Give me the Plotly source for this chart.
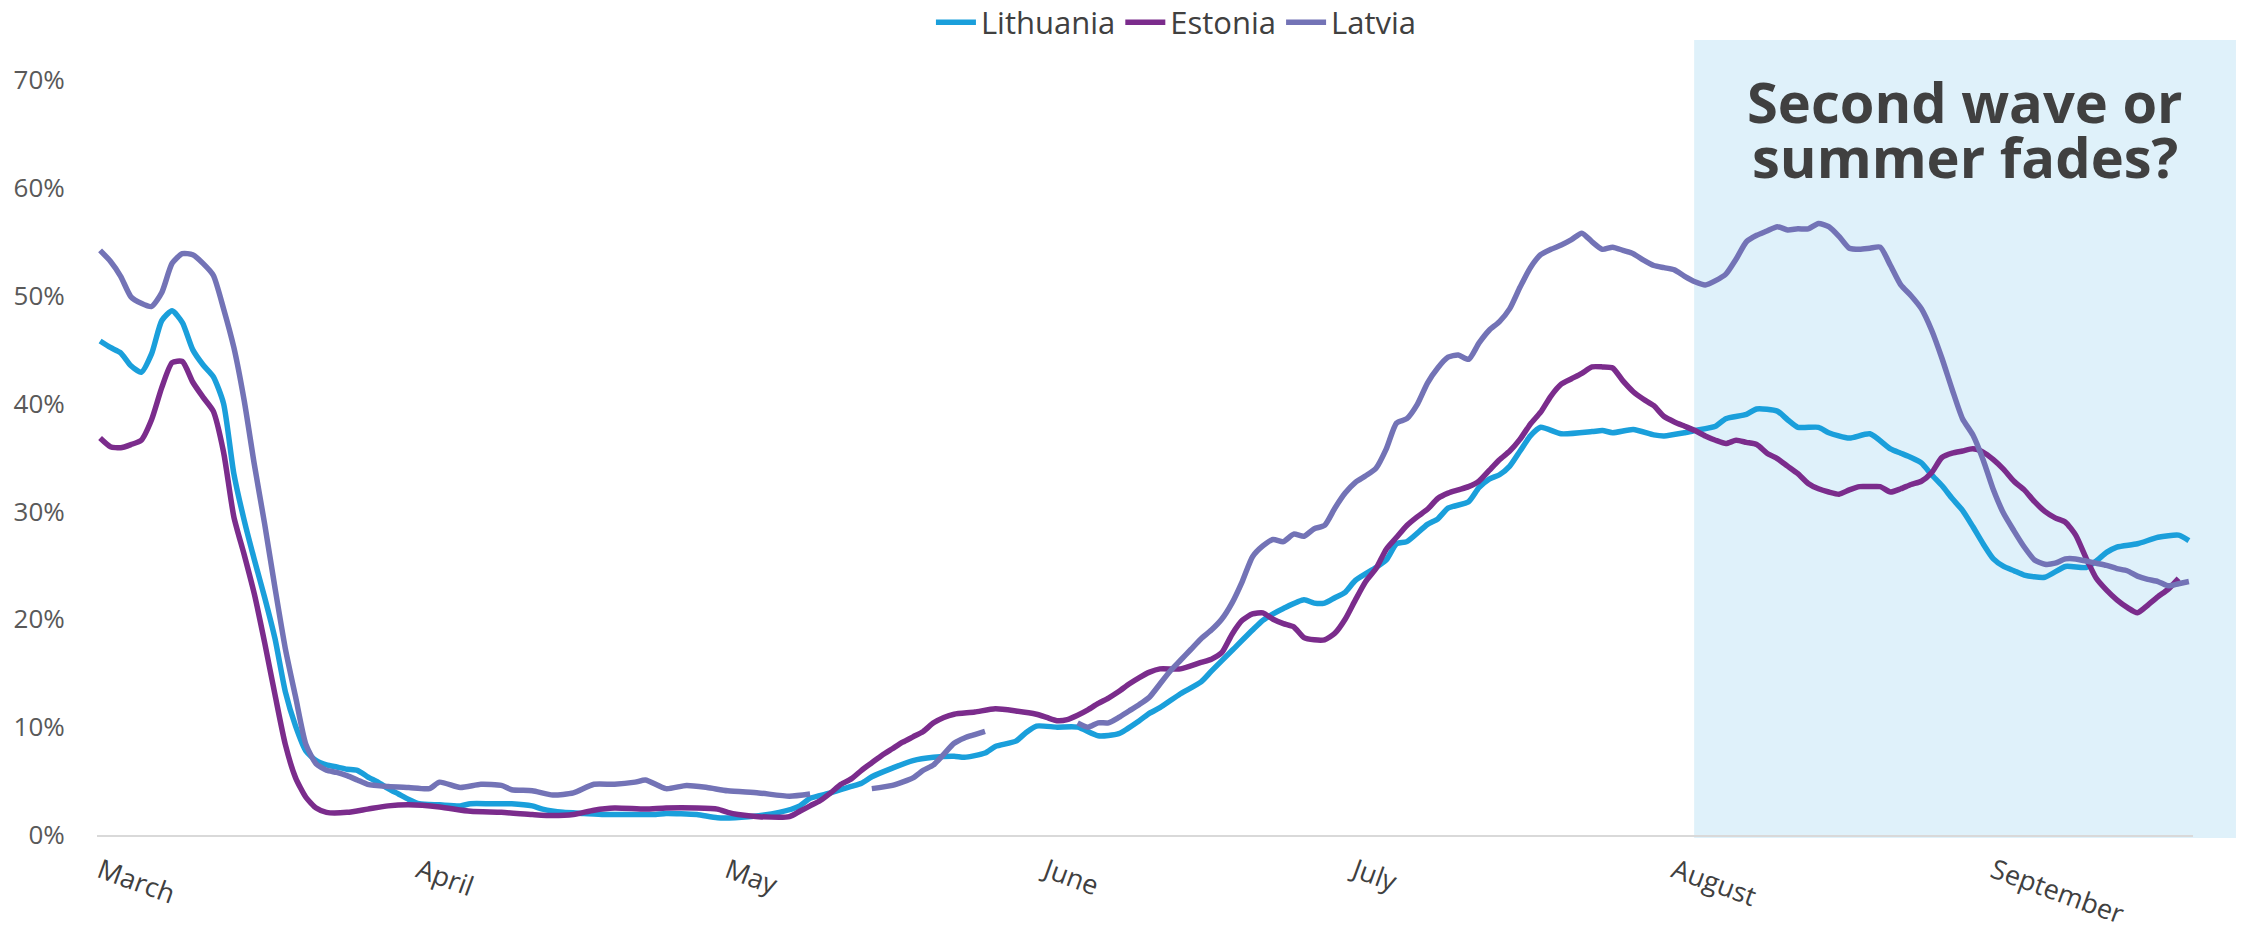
import pandas as pd
import plotly.graph_objects as go

START = pd.Timestamp("2020-03-01")

# day offsets from 1 March and share (%) for each country
lithuania_day = [0, 1, 2, 3, 4, 5, 6, 7, 8, 9, 10, 11, 12, 13, 14, 15, 16, 17, 18, 19, 20, 21, 22, 23, 24, 25,
                 26, 27, 28, 29, 30, 31, 33, 35, 36, 38, 40, 42, 43, 45, 47, 49, 52, 54, 55, 58, 60, 63, 66, 68,
                 69, 71, 73, 74, 75, 77, 79, 81, 83, 84, 86, 87, 89, 90, 91, 93, 95, 97, 99, 101, 102, 103, 105,
                 107, 108, 110, 112, 113, 114, 115, 117, 118, 119, 120, 121, 122, 124, 125, 126, 127, 129, 130,
                 131, 133, 134, 135, 136, 137, 138, 139, 140, 142, 145, 146, 147, 149, 151, 152, 154, 155, 157,
                 158, 160, 161, 163, 164, 165, 167, 168, 170, 172, 174, 175, 176, 177, 178, 179, 180, 181, 182,
                 183, 184, 185, 186, 187, 189, 191, 193, 194, 195, 196, 198, 200, 202, 203]
lithuania_val = [45.8, 45.2, 44.7, 43.5, 42.9, 44.6, 47.7, 48.6, 47.5, 45.0, 43.6, 42.5, 40.0, 33.5, 29.2, 25.5,
                 22.0, 18.2, 13.3, 10.1, 7.8, 6.9, 6.5, 6.3, 6.1, 6.0, 5.4, 4.9, 4.3, 3.8, 3.3, 2.9, 2.8, 2.7,
                 2.9, 2.9, 2.9, 2.7, 2.4, 2.1, 2.0, 1.9, 1.9, 1.9, 2.0, 1.9, 1.6, 1.7, 2.1, 2.7, 3.4, 3.9, 4.5,
                 4.8, 5.4, 6.2, 6.9, 7.2, 7.3, 7.2, 7.6, 8.2, 8.7, 9.5, 10.1, 10.0, 10.0, 9.2, 9.4, 10.6, 11.3,
                 11.8, 13.1, 14.2, 15.2, 17.1, 19.0, 19.9, 20.5, 21.0, 21.8, 21.5, 21.5, 22.0, 22.5, 23.6, 24.8,
                 25.5, 27.0, 27.2, 28.8, 29.3, 30.3, 30.9, 32.2, 33.0, 33.4, 34.2, 35.6, 37.0, 37.8, 37.2, 37.4,
                 37.5, 37.3, 37.6, 37.1, 37.0, 37.3, 37.5, 37.9, 38.6, 39.0, 39.5, 39.3, 38.5, 37.8, 37.8, 37.3,
                 36.8, 37.2, 35.8, 35.4, 35.0, 34.5, 33.4, 32.4, 31.2, 30.1, 28.6, 27.0, 25.6, 24.9, 24.5, 24.1,
                 23.9, 24.9, 24.8, 25.4, 26.2, 26.7, 27.0, 27.6, 27.8, 27.3]

estonia_day = [0, 1, 2, 3, 4, 5, 6, 7, 8, 9, 10, 11, 12, 13, 14, 15, 16, 17, 18, 19, 20, 21, 22, 24, 26, 28, 30,
               33, 36, 39, 42, 44, 46, 48, 50, 53, 55, 58, 60, 61, 62, 64, 67, 68, 69, 70, 71, 72, 73, 74, 75,
               76, 77, 78, 79, 80, 81, 82, 83, 85, 87, 89, 91, 92, 93, 94, 95, 96, 97, 98, 99, 100, 101, 102,
               103, 105, 107, 108, 109, 110, 111, 112, 113, 114, 115, 116, 117, 118, 119, 120, 121, 122, 123,
               124, 125, 126, 127, 128, 129, 130, 131, 132, 133, 134, 135, 136, 137, 138, 139, 140, 141, 142,
               143, 144, 145, 146, 147, 148, 149, 150, 151, 152, 153, 154, 155, 156, 157, 158, 159, 160, 161,
               162, 163, 164, 165, 166, 167, 168, 169, 170, 171, 172, 173, 174, 175, 176, 177, 178, 179, 180,
               181, 182, 183, 184, 185, 186, 187, 188, 189, 190, 191, 192, 193, 194, 195, 196, 197, 198, 199,
               200, 201, 202]
estonia_val = [36.8, 36.0, 35.9, 36.2, 36.6, 38.5, 41.5, 43.8, 43.9, 42.0, 40.6, 39.3, 35.5, 29.5, 26.0, 22.3,
               17.8, 13.0, 8.4, 5.3, 3.5, 2.5, 2.1, 2.1, 2.4, 2.7, 2.8, 2.6, 2.2, 2.1, 1.9, 1.8, 1.9, 2.3, 2.5,
               2.4, 2.5, 2.5, 2.4, 2.1, 1.9, 1.7, 1.7, 2.2, 2.7, 3.2, 3.9, 4.7, 5.2, 6.0, 6.7, 7.4, 8.0, 8.6,
               9.1, 9.6, 10.4, 10.9, 11.2, 11.4, 11.7, 11.5, 11.2, 10.9, 10.6, 10.7, 11.1, 11.6, 12.2, 12.7,
               13.3, 14.0, 14.6, 15.1, 15.4, 15.4, 16.0, 16.3, 16.9, 18.6, 19.9, 20.5, 20.6, 20.0, 19.6, 19.3,
               18.3, 18.1, 18.1, 18.7, 20.0, 21.8, 23.5, 24.7, 26.5, 27.6, 28.7, 29.5, 30.2, 31.2, 31.7, 32.0,
               32.3, 32.8, 33.8, 34.8, 35.6, 36.7, 38.1, 39.2, 40.7, 41.8, 42.3, 42.8, 43.4, 43.4, 43.3, 42.1,
               41.1, 40.4, 39.8, 38.8, 38.3, 37.9, 37.5, 37.0, 36.6, 36.3, 36.6, 36.4, 36.2, 35.4, 34.9, 34.2,
               33.5, 32.6, 32.1, 31.8, 31.6, 32.0, 32.3, 32.3, 32.3, 31.8, 32.1, 32.5, 32.8, 33.6, 35.0, 35.4,
               35.6, 35.8, 35.5, 34.8, 33.9, 32.8, 32.0, 30.9, 30.0, 29.4, 29.0, 27.8, 25.7, 23.8, 22.7, 21.8,
               21.1, 20.6, 21.3, 22.1, 22.8, 23.8]

# None marks the days where the Latvian series has no data
latvia_day = [0, 1, 2, 3, 4, 5, 6, 7, 8, 9, 10, 11, 12, 13, 14, 15, 16, 17, 18, 19, 20, 21, 22, 23, 24, 25, 26,
              28, 30, 32, 33, 35, 37, 39, 40, 42, 44, 46, 48, 50, 52, 53, 55, 57, 59, 61, 64, 67, 69,
              72,
              75, 77, 79, 80, 81, 82, 83, 84, 85, 86,
              90,
              95, 96, 97, 98, 99, 100, 101, 102, 103, 104, 105, 106, 107, 108, 109, 110, 111, 112, 113, 114,
              115, 116, 117, 118, 119, 120, 121, 122, 123, 124, 125, 126, 127, 128, 129, 130, 131, 132, 133,
              134, 135, 136, 137, 138, 139, 140, 141, 142, 143, 144, 145, 146, 147, 148, 149, 150, 151, 152,
              153, 154, 155, 156, 157, 158, 159, 160, 161, 162, 163, 164, 165, 166, 167, 168, 169, 170, 171,
              172, 173, 174, 175, 176, 177, 178, 179, 180, 181, 182, 183, 184, 185, 186, 187, 188, 189, 190,
              191, 192, 193, 194, 195, 196, 197, 198, 199, 200, 201, 202, 203]
latvia_val = [54.2, 53.2, 51.8, 49.9, 49.3, 49.0, 50.3, 53.0, 53.9, 53.8, 53.0, 51.9, 48.8, 45.2, 40.3, 34.3,
              28.8, 22.9, 17.3, 12.8, 8.4, 6.6, 6.0, 5.8, 5.5, 5.1, 4.7, 4.5, 4.4, 4.3, 4.9, 4.4, 4.7, 4.6,
              4.2, 4.1, 3.7, 3.9, 4.7, 4.7, 4.9, 5.1, 4.3, 4.6, 4.4, 4.1, 3.9, 3.6, 3.8,
              None,
              4.3, 4.6, 5.3, 6.0, 6.5, 7.5, 8.5, 9.0, 9.3, 9.6,
              None,
              10.4, 10.0, 10.4, 10.4, 10.9, 11.5, 12.1, 12.8, 14.0, 15.2, 16.2, 17.2, 18.2, 19.0, 20.0, 21.5,
              23.5, 25.8, 26.8, 27.4, 27.2, 27.9, 27.7, 28.4, 28.7, 30.3, 31.7, 32.7, 33.3, 34.0, 35.8, 38.2,
              38.6, 39.9, 41.9, 43.3, 44.3, 44.5, 44.1, 45.6, 46.8, 47.6, 48.8, 50.8, 52.6, 53.8, 54.3, 54.7,
              55.2, 55.8, 55.0, 54.3, 54.5, 54.2, 53.9, 53.3, 52.8, 52.6, 52.4, 51.8, 51.3, 51.0, 51.4, 52.0,
              53.4, 55.0, 55.6, 56.0, 56.4, 56.1, 56.2, 56.2, 56.7, 56.4, 55.5, 54.4, 54.3, 54.4, 54.5, 52.8,
              51.0, 50.0, 48.8, 46.8, 44.2, 41.3, 38.6, 37.1, 34.8, 32.0, 29.8, 28.2, 26.7, 25.5, 25.1, 25.2,
              25.6, 25.6, 25.4, 25.2, 25.0, 24.7, 24.5, 24.0, 23.7, 23.5, 23.1, 23.3, 23.5]

month_starts = ["2020-03-01", "2020-04-01", "2020-05-01", "2020-06-01",
                "2020-07-01", "2020-08-01", "2020-09-01"]
month_names = ["March", "April", "May", "June", "July", "August", "September"]
y_ticks = [0, 10, 20, 30, 40, 50, 60, 70]

series = [
    ("Lithuania", lithuania_day, lithuania_val, "#1A9FDB"),
    ("Estonia", estonia_day, estonia_val, "#7B2C8C"),
    ("Latvia", latvia_day, latvia_val, "#7373B6"),
]


def to_dates(days):
    return [START + pd.Timedelta(days=d) for d in days]


FONT = "Open Sans, Noto Sans, sans-serif"

fig = go.Figure()
for name, days, vals, color in series:
    fig.add_trace(go.Scatter(
        x=to_dates(days), y=vals, name=name, mode="lines",
        line=dict(color=color, width=5.5, shape="spline", smoothing=0.6),
        connectgaps=False,
    ))

# highlighted late-summer period
fig.add_shape(type="rect", xref="paper", yref="paper",
              x0=0.762, x1=1.0205, y0=-0.004, y1=1.053,
              fillcolor="#DFF1FA", line=dict(width=0), layer="below")

# two-line call-out, each line in its own box so the lines sit close together
callout_lines = ["Second wave or", "summer fades?"]
callout_y = [0.972, 0.899]
for line_text, ypos in zip(callout_lines, callout_y):
    fig.add_annotation(text=f"<b>{line_text}</b>", xref="paper", yref="paper",
                       x=0.891, y=ypos, xanchor="center", yanchor="middle", showarrow=False,
                       height=52, valign="middle",
                       font=dict(family=FONT, size=56, color="#404040"))

fig.update_layout(
    width=2241, height=932,
    margin=dict(l=97, r=48, t=80, b=97, autoexpand=False),
    paper_bgcolor="white", plot_bgcolor="rgba(0,0,0,0)",
    font=dict(family=FONT, color="#404040"),
    showlegend=True,
    legend=dict(orientation="h", x=0.515, xanchor="center", y=1.076, yanchor="middle",
                font=dict(family=FONT, size=31, color="#404040"), itemwidth=40,
                bgcolor="rgba(0,0,0,0)"),
    xaxis=dict(
        type="date",
        range=[START - pd.Timedelta(days=0.3), START + pd.Timedelta(days=203.4)],
        tickmode="array", tickvals=month_starts, ticktext=month_names,
        tickangle=20, tickfont=dict(family=FONT, size=27, color="#404040"),
        showgrid=False, zeroline=False,
        showline=True, linecolor="#D9D9D9", linewidth=2,
        ticks="outside", ticklen=8, tickcolor="rgba(0,0,0,0)",
    ),
    yaxis=dict(
        range=[0, 70], tickmode="array", tickvals=y_ticks,
        ticktext=[f"{v}%" for v in y_ticks],
        tickfont=dict(family=FONT, size=26, color="#595959"),
        showgrid=False, zeroline=False, showline=False,
        ticks="outside", ticklen=26, tickcolor="rgba(0,0,0,0)",
    ),
)

fig.write_html("out.html")
